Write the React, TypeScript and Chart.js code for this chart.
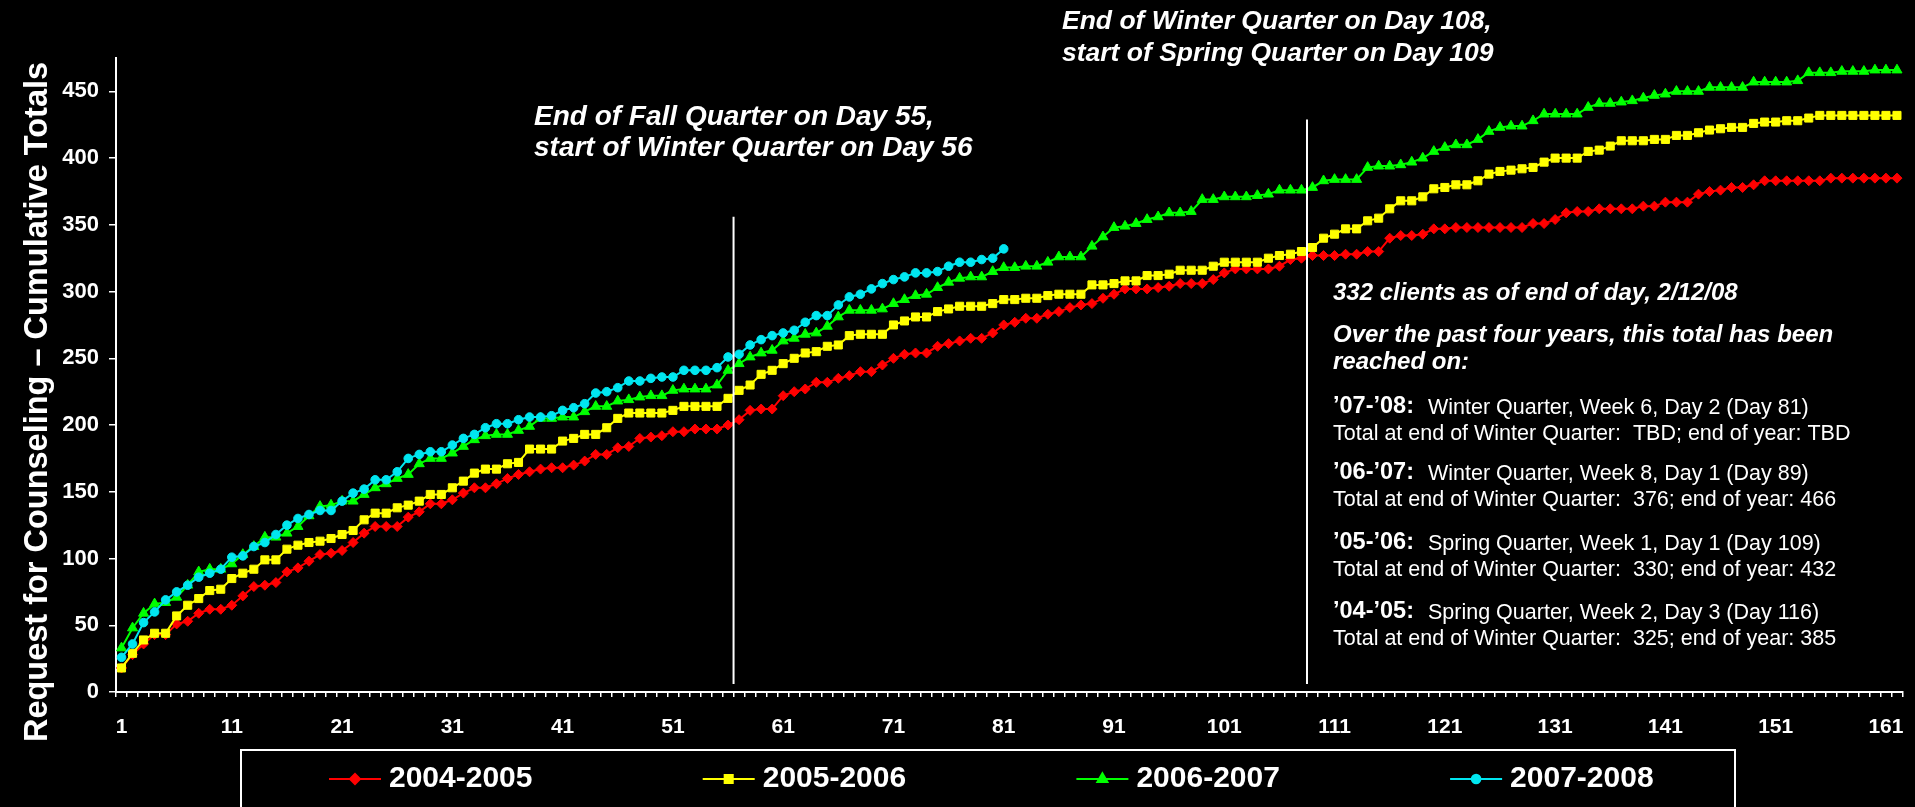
import React, { useEffect, useRef } from "react";
import { Chart, registerables } from "chart.js";
import { drawPoint } from "chart.js/helpers";

Chart.register(...registerables);

// ---------- data ----------
const days: string[] = Array.from({ length: 162 }, (_, i) => String(i + 1));

const yTicks = [0, 50, 100, 150, 200, 250, 300, 350, 400, 450];

const seriesLabels = ["2004-2005", "2005-2006", "2006-2007", "2007-2008"];

const y2004 = [
  18, 28, 36, 43, 43, 51, 53, 59, 62, 62,
  65, 72, 79, 80, 82, 90, 93, 98, 103, 104,
  106, 112, 119, 124, 124, 124, 131, 135, 141, 141,
  144, 149, 153, 153, 156, 160, 163, 165, 167, 168,
  168, 170, 173, 178, 178, 183, 184, 190, 191, 192,
  195, 195, 197, 197, 197, 200, 204, 211, 212, 212,
  222, 225, 227, 232, 232, 235, 237, 240, 240, 245,
  250, 253, 254, 254, 259, 261, 263, 265, 265, 269,
  275, 277, 280, 280, 283, 285, 288, 290, 291, 295,
  298, 302, 302, 302, 303, 304, 306, 306, 306, 309,
  314, 317, 317, 317, 317, 319, 324, 325, 327, 327,
  327, 328, 328, 330, 330, 340, 342, 342, 343, 347,
  347, 348, 348, 348, 348, 348, 348, 348, 351, 351,
  354, 359, 360, 360, 362, 362, 362, 362, 364, 364,
  367, 367, 367, 373, 375, 376, 378, 378, 380, 383,
  383, 383, 383, 383, 383, 385, 385, 385, 385, 385,
  385, 385,
];

const y2005 = [
  18, 29, 39, 44, 44, 57, 65, 70, 76, 77,
  85, 89, 92, 99, 99, 107, 110, 112, 113, 115,
  118, 121, 129, 134, 134, 138, 140, 143, 148, 148,
  153, 158, 164, 167, 167, 171, 172, 182, 182, 182,
  188, 190, 193, 193, 198, 205, 209, 209, 209, 209,
  211, 214, 214, 214, 214, 220, 226, 230, 238, 241,
  246, 250, 254, 255, 259, 260, 267, 268, 268, 268,
  275, 278, 281, 281, 285, 287, 289, 289, 289, 291,
  294, 294, 295, 295, 297, 298, 298, 298, 305, 305,
  306, 308, 308, 312, 312, 313, 316, 316, 316, 319,
  322, 322, 322, 322, 325, 327, 328, 330, 333, 340,
  343, 347, 347, 353, 355, 362, 368, 368, 371, 377,
  378, 380, 380, 383, 388, 390, 391, 392, 393, 397,
  400, 400, 400, 405, 406, 409, 413, 413, 413, 414,
  414, 417, 417, 419, 421, 422, 423, 423, 426, 427,
  427, 428, 428, 430, 432, 432, 432, 432, 432, 432,
  432, 432,
];

const y2006 = [
  33, 48, 59, 66, 67, 71, 80, 90, 92, 92,
  96, 103, 109, 116, 116, 119, 124, 132, 139, 140,
  143, 143, 148, 153, 156, 160, 163, 171, 175, 175,
  179, 184, 189, 192, 193, 193, 196, 199, 205, 205,
  206, 206, 210, 214, 214, 218, 219, 221, 222, 222,
  226, 227, 227, 227, 230, 241, 246, 251, 254, 256,
  263, 265, 268, 269, 274, 281, 286, 286, 286, 287,
  291, 294, 297, 298, 303, 307, 310, 311, 311, 315,
  318, 318, 319, 319, 322, 326, 326, 326, 334, 341,
  348, 349, 351, 354, 356, 359, 359, 360, 369, 369,
  371, 371, 371, 372, 373, 376, 376, 376, 378, 383,
  384, 384, 384, 393, 394, 394, 395, 397, 400, 405,
  408, 410, 410, 414, 420, 423, 424, 424, 428, 433,
  433, 433, 433, 438, 441, 441, 442, 443, 445, 447,
  448, 450, 450, 450, 453, 453, 453, 453, 457, 457,
  457, 457, 458, 464, 464, 464, 465, 465, 465, 466,
  466, 466,
];

const y2007 = [
  26, 36, 52, 60, 69, 75, 80, 86, 89, 92,
  101, 102, 109, 112, 118, 125, 130, 133, 136, 136,
  143, 149, 152, 159, 159, 165, 175, 178, 180, 180,
  185, 190, 193, 198, 201, 201, 204, 206, 206, 207,
  211, 213, 216, 224, 225, 228, 233, 233, 235, 236,
  236, 241, 241, 241, 243, 251, 253, 260, 264, 267,
  269, 271, 277, 282, 282, 290, 296, 298, 302, 306,
  309, 311, 314, 314, 315, 319, 322, 322, 324, 325,
  332,
];

// quarter boundaries (category index position, top value of the marker line)
const breakPositions = [55.5, 107.5];
const breakTops = [356, 429];
const breakNotes = [
  ["End of Fall Quarter on Day 55,", "start of Winter Quarter on Day 56"],
  ["End of Winter Quarter on Day 108,", "start of Spring Quarter on Day 109"],
];

const summaryHead = [
  "332 clients as of end of day, 2/12/08",
  "Over the past four years, this total has been",
  "reached on:",
];
const reachedYears = ["\u201907-\u201908:", "\u201906-\u201907:", "\u201905-\u201906:", "\u201904-\u201905:"];
const reachedWhen = [
  "Winter Quarter, Week 6, Day 2 (Day 81)",
  "Winter Quarter, Week 8, Day 1 (Day 89)",
  "Spring Quarter, Week 1, Day 1 (Day 109)",
  "Spring Quarter, Week 2, Day 3 (Day 116)",
];
const reachedTotals = [
  "Total at end of Winter Quarter:  TBD; end of year: TBD",
  "Total at end of Winter Quarter:  376; end of year: 466",
  "Total at end of Winter Quarter:  330; end of year: 432",
  "Total at end of Winter Quarter:  325; end of year: 385",
];

const yTitle = "Request for Counseling \u2013 Cumulative Totals";

// ---------- styles ----------
const FONT = '"Liberation Sans", Arial, Helvetica, sans-serif';
const colors = ["#FF0000", "#FFFF00", "#00FF00", "#00E6F0"];
const pointStyles = ["rectRot", "rect", "triangle", "circle"];
const pointRadii = [5, 5.7, 5.8, 4.3];

const decorPlugin = {
  id: "decor",
  afterDatasetsDraw(chart: any) {
    const { ctx, scales } = chart;
    const x = scales.x;
    const y = scales.y;
    ctx.save();
    ctx.strokeStyle = "#FFFFFF";
    ctx.lineWidth = 2;
    breakPositions.forEach((pos, i) => {
      const px = x.getPixelForValue(pos);
      ctx.beginPath();
      ctx.moveTo(px, y.getPixelForValue(breakTops[i]));
      ctx.lineTo(px, y.getPixelForValue(6));
      ctx.stroke();
    });
    ctx.restore();
  },
  afterDraw(chart: any) {
    const { ctx } = chart;
    ctx.save();
    ctx.fillStyle = "#FFFFFF";
    ctx.textBaseline = "middle";

    // y axis title
    ctx.save();
    ctx.translate(38, 402);
    ctx.rotate(-Math.PI / 2);
    ctx.textAlign = "center";
    ctx.font = `bold 32.5px ${FONT}`;
    ctx.fillText(yTitle, 0, 0);
    ctx.restore();

    // quarter notes
    ctx.textAlign = "left";
    const notePos = [
      [534, 117, 28],
      [1062, 22, 26.5],
    ];
    breakNotes.forEach((lines, i) => {
      ctx.font = `italic bold ${notePos[i][2]}px ${FONT}`;
      lines.forEach((t, j) => ctx.fillText(t, notePos[i][0], notePos[i][1] + j * 31.5));
    });

    // summary box
    const bx = 1333;
    ctx.font = `italic bold 24px ${FONT}`;
    ctx.fillText(summaryHead[0], bx, 293);
    ctx.fillText(summaryHead[1], bx, 335);
    ctx.fillText(summaryHead[2], bx, 362);
    const blockY = [407, 473, 543, 612];
    reachedYears.forEach((yr, i) => {
      ctx.font = `bold 23.5px ${FONT}`;
      ctx.fillText(yr, bx, blockY[i]);
      ctx.font = `21.5px ${FONT}`;
      ctx.fillText(reachedWhen[i], 1428, blockY[i] + 1);
      ctx.fillText(reachedTotals[i], bx, blockY[i] + 27);
    });

    // legend
    ctx.strokeStyle = "#FFFFFF";
    ctx.lineWidth = 2;
    ctx.strokeRect(241, 750, 1494, 80);
    const ly = 779;
    chart.data.datasets.forEach((ds: any, i: number) => {
      const tx = 389 + i * 373.7;
      ctx.strokeStyle = ds.borderColor;
      ctx.lineWidth = 2;
      ctx.beginPath();
      ctx.moveTo(tx - 60, ly);
      ctx.lineTo(tx - 8, ly);
      ctx.stroke();
      ctx.fillStyle = ds.borderColor;
      drawPoint(
        ctx,
        { pointStyle: ds.pointStyle, radius: ds.pointRadius, borderWidth: 1, rotation: 0 },
        tx - 34,
        ly
      );
      ctx.fillStyle = "#FFFFFF";
      ctx.font = `bold 30px ${FONT}`;
      ctx.textAlign = "left";
      ctx.fillText(ds.label, tx, ly);
    });
    ctx.restore();
  },
};

export default function App() {
  const ref = useRef<HTMLCanvasElement>(null);
  useEffect(() => {
    document.body.style.margin = "0";
    document.body.style.background = "#000";
    Chart.defaults.font.family = FONT;
    const series = [y2004, y2005, y2006, y2007];
    const chart = new Chart(ref.current as HTMLCanvasElement, {
      type: "line",
      data: {
        labels: days,
        datasets: series.map((d, i) => ({
          label: seriesLabels[i],
          data: d,
          borderColor: colors[i],
          backgroundColor: colors[i],
          pointBackgroundColor: colors[i],
          pointBorderColor: colors[i],
          borderWidth: 2,
          pointStyle: pointStyles[i] as any,
          pointRadius: pointRadii[i],
          pointBorderWidth: 1,
          tension: 0,
          fill: false,
          order: 4 - i,
        })),
      },
      options: {
        responsive: false,
        devicePixelRatio: 1,
        animation: false,
        events: [],
        layout: { padding: { left: 0, top: 58, right: 8, bottom: 0 } },
        plugins: { legend: { display: false }, tooltip: { enabled: false }, title: { display: false } },
        scales: {
          x: {
            type: "category",
            offset: true,
            afterFit: (axis: any) => {
              axis.height = 115;
            },
            grid: {
              display: true,
              offset: true,
              drawOnChartArea: false,
              drawTicks: true,
              tickLength: 5,
              color: "#FFFFFF",
              lineWidth: 1.5,
            },
            border: { display: true, color: "#FFFFFF", width: 2 },
            ticks: {
              autoSkip: false,
              maxRotation: 0,
              minRotation: 0,
              color: "#FFFFFF",
              padding: 18,
              font: { size: 21, weight: "bold" },
              callback: (_v: any, i: number) => (i % 10 === 0 ? days[i] : ""),
            },
          },
          y: {
            min: 0,
            max: 475,
            afterBuildTicks: (axis: any) => {
              axis.ticks = yTicks.map((v) => ({ value: v }));
            },
            afterFit: (axis: any) => {
              axis.width = 116;
            },
            grid: {
              drawOnChartArea: false,
              drawTicks: true,
              tickLength: 7,
              color: "#FFFFFF",
              lineWidth: 1.5,
            },
            border: { display: true, color: "#FFFFFF", width: 2 },
            ticks: {
              color: "#FFFFFF",
              padding: 10,
              font: { size: 22, weight: "bold" },
            },
          },
        },
      },
      plugins: [decorPlugin],
    } as any);
    return () => chart.destroy();
  }, []);
  return (
    <div style={{ width: 1915, height: 807, background: "#000", overflow: "hidden" }}>
      <canvas ref={ref} width={1915} height={807} style={{ display: "block" }} />
    </div>
  );
}
